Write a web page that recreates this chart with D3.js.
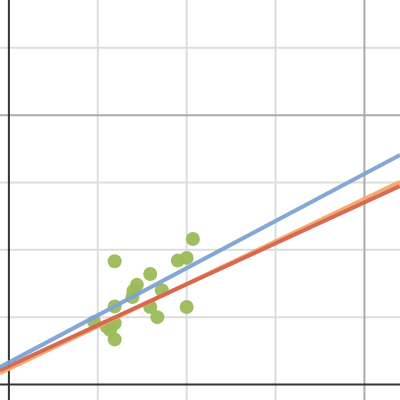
<!DOCTYPE html>
<html>
<head>
<meta charset="utf-8">
<script src="https://cdn.jsdelivr.net/npm/d3@7"></script>
<style>
  html, body { margin: 0; padding: 0; background: #fff; }
  svg { display: block; }
</style>
</head>
<body>
<div id="chart"></div>
<script>
// scatter points (data units)
const pointX = [1.19, 2.07, 1.90, 2.00, 1.59, 1.44, 1.40, 1.39, 1.72, 1.59, 1.67, 2.00, 1.19, 0.96, 1.10, 1.19, 1.19, 1.14];
const pointY = [1.83, 2.16, 1.84, 1.88, 1.64, 1.48, 1.39, 1.30, 1.40, 1.15, 1.00, 1.15, 1.16, 0.93, 0.86, 0.91, 0.67, 0.81];

// fitted lines: y = slope * x + intercept
const lineNames = ["orange", "red", "blue"];
const lineSlopes = [0.631, 0.6075, 0.700];
const lineIntercepts = [0.232, 0.274, 0.328];
const lineColors = ["#f5a66a", "#d4644c", "#7ca2d5"];

const minorTicksX = [1, 2, 3];
const majorTicksX = [4];
const minorTicksY = [1, 2, 3, 5];
const majorTicksY = [4];

const W = 400, H = 400;

const svg = d3.select("#chart").append("svg")
  .attr("width", W).attr("height", H);

const x = d3.scaleLinear().domain([-0.1, 4.4]).range([0, W]);
const y = d3.scaleLinear().domain([-0.23, 5.71]).range([H, 0]);

// grid
const grid = svg.append("g");
grid.selectAll("line.vminor").data(minorTicksX).enter().append("line")
  .attr("x1", d => x(d)).attr("x2", d => x(d)).attr("y1", 0).attr("y2", H)
  .attr("stroke", "#dddddd").attr("stroke-width", 2);
grid.selectAll("line.hminor").data(minorTicksY).enter().append("line")
  .attr("y1", d => y(d)).attr("y2", d => y(d)).attr("x1", 0).attr("x2", W)
  .attr("stroke", "#dddddd").attr("stroke-width", 2);
grid.selectAll("line.vmajor").data(majorTicksX).enter().append("line")
  .attr("x1", d => x(d)).attr("x2", d => x(d)).attr("y1", 0).attr("y2", H)
  .attr("stroke", "#ababab").attr("stroke-width", 2);
grid.selectAll("line.hmajor").data(majorTicksY).enter().append("line")
  .attr("y1", d => y(d)).attr("y2", d => y(d)).attr("x1", 0).attr("x2", W)
  .attr("stroke", "#ababab").attr("stroke-width", 2);

// axes
svg.append("line")
  .attr("x1", x(0)).attr("x2", x(0)).attr("y1", 0).attr("y2", H)
  .attr("stroke", "#333").attr("stroke-width", 2);
svg.append("line")
  .attr("x1", 0).attr("x2", W).attr("y1", y(0)).attr("y2", y(0))
  .attr("stroke", "#333").attr("stroke-width", 2);

// points
const pts = pointX.map((px, i) => ({ x: px, y: pointY[i] }));
svg.append("g").selectAll("circle").data(pts).enter().append("circle")
  .attr("cx", d => x(d.x)).attr("cy", d => y(d.y)).attr("r", 7)
  .attr("fill", "#9bbb59").attr("fill-opacity", 0.95);

// lines
const xs = x.domain();
const lines = lineNames.map((n, i) => ({
  color: lineColors[i],
  pts: xs.map(v => [v, lineSlopes[i] * v + lineIntercepts[i]])
}));
const lineGen = d3.line().x(d => x(d[0])).y(d => y(d[1]));
svg.append("g").selectAll("path").data(lines).enter().append("path")
  .attr("d", d => lineGen(d.pts))
  .attr("fill", "none")
  .attr("stroke", d => d.color)
  .attr("stroke-width", 4)
  .attr("stroke-opacity", 0.95);
</script>
</body>
</html>
